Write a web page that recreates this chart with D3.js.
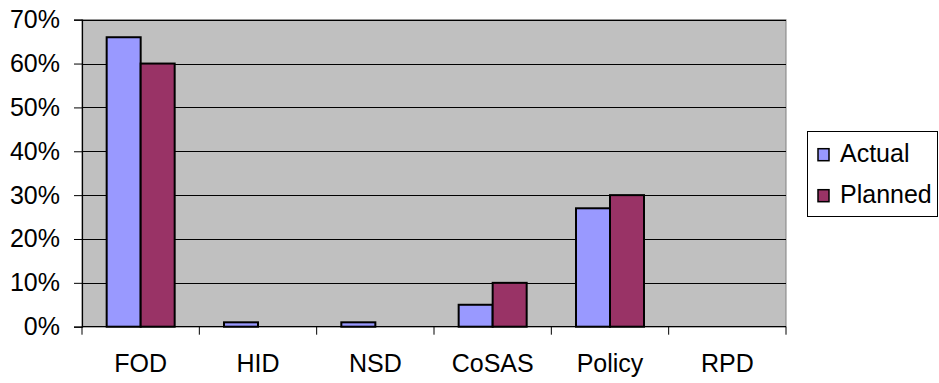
<!DOCTYPE html>
<html>
<head>
<meta charset="utf-8">
<script src="https://cdn.jsdelivr.net/npm/d3@7"></script>
<style>
  html, body { margin: 0; padding: 0; background: #fff; }
  svg { display: block; }
  text { font-family: Arial, "Liberation Sans", sans-serif; fill: #000; }
</style>
</head>
<body>
<svg id="chart" width="939" height="383"></svg>
<script>
// Departments on the category axis
const categories = ["FOD", "HID", "NSD", "CoSAS", "Policy", "RPD"];
// Share of effort, in percent
const actual  = [66, 1, 1, 5, 27, 0];
const planned = [60, 0, 0, 10, 30, 0];
const seriesNames = ["Actual", "Planned"];
const seriesColors = ["#9999FF", "#993366"];
const yTicks = [0, 10, 20, 30, 40, 50, 60, 70];

const svg = d3.select("#chart");
const plot = { left: 82, right: 786, top: 19.7, bottom: 326.7 };
const fontPx = "25px";

const x = d3.scaleBand().domain(categories).range([plot.left, plot.right]);
const y = d3.scaleLinear().domain([0, 70]).range([plot.bottom, plot.top]);

// plot area background
svg.append("rect")
  .attr("x", plot.left).attr("y", plot.top)
  .attr("width", plot.right - plot.left).attr("height", plot.bottom - plot.top)
  .attr("fill", "#C0C0C0").attr("stroke", "#808080").attr("stroke-width", 1);

// horizontal gridlines
svg.append("g").selectAll("line").data(yTicks.filter(d => d > 0)).join("line")
  .attr("x1", plot.left).attr("x2", plot.right)
  .attr("y1", d => Math.round(y(d)) + 0.5).attr("y2", d => Math.round(y(d)) + 0.5)
  .attr("stroke", "#000").attr("stroke-width", 1);

// bars
const barW = 34;
const rows = categories.map((c, i) => ({ c, vals: [actual[i], planned[i]] }));
const g = svg.append("g");
rows.forEach(r => {
  const cx = x(r.c) + x.bandwidth() / 2;
  r.vals.forEach((v, j) => {
    if (v <= 0) return;
    g.append("rect")
      .attr("x", cx - barW + j * barW)
      .attr("y", y(v))
      .attr("width", barW)
      .attr("height", y(0) - y(v))
      .attr("fill", seriesColors[j])
      .attr("stroke", "#000")
      .attr("stroke-width", 2);
  });
});

// y axis
const yAxis = d3.axisLeft(y).tickValues(yTicks).tickFormat(d => d + "%").tickSize(8).tickPadding(14);
const ya = svg.append("g").attr("transform", `translate(${plot.left},0)`).call(yAxis);
ya.select(".domain").attr("stroke", "#000").attr("stroke-width", 1.2);
ya.selectAll(".tick line").attr("stroke", "#000");
ya.selectAll("text").style("font-size", fontPx).attr("font-family", "Arial, 'Liberation Sans', sans-serif");

// x axis with ticks on band boundaries
const xa = svg.append("g").attr("transform", `translate(0,${plot.bottom})`);
xa.append("line").attr("x1", plot.left).attr("x2", plot.right).attr("y1", 0).attr("y2", 0)
  .attr("stroke", "#000").attr("stroke-width", 1.2);
const bounds = categories.map(c => x(c)).concat([plot.right]);
xa.selectAll("line.tk").data(bounds).join("line").attr("class", "tk")
  .attr("x1", d => d).attr("x2", d => d).attr("y1", 0).attr("y2", 8)
  .attr("stroke", "#000");
xa.selectAll("text").data(categories).join("text")
  .attr("x", d => x(d) + x.bandwidth() / 2).attr("y", 45)
  .attr("text-anchor", "middle").style("font-size", fontPx).text(d => d);

// legend
const lg = svg.append("g");
lg.append("rect").attr("x", 807.5).attr("y", 131.5).attr("width", 130).attr("height", 85)
  .attr("fill", "#fff").attr("stroke", "#000").attr("stroke-width", 1);
seriesNames.forEach((n, i) => {
  const by = 161.7 + i * 41;
  lg.append("rect").attr("x", 818).attr("y", by - 13).attr("width", 11).attr("height", 12)
    .attr("fill", seriesColors[i]).attr("stroke", "#000").attr("stroke-width", 1.5);
  lg.append("text").attr("x", 840).attr("y", by).style("font-size", fontPx).text(n);
});
</script>
</body>
</html>
